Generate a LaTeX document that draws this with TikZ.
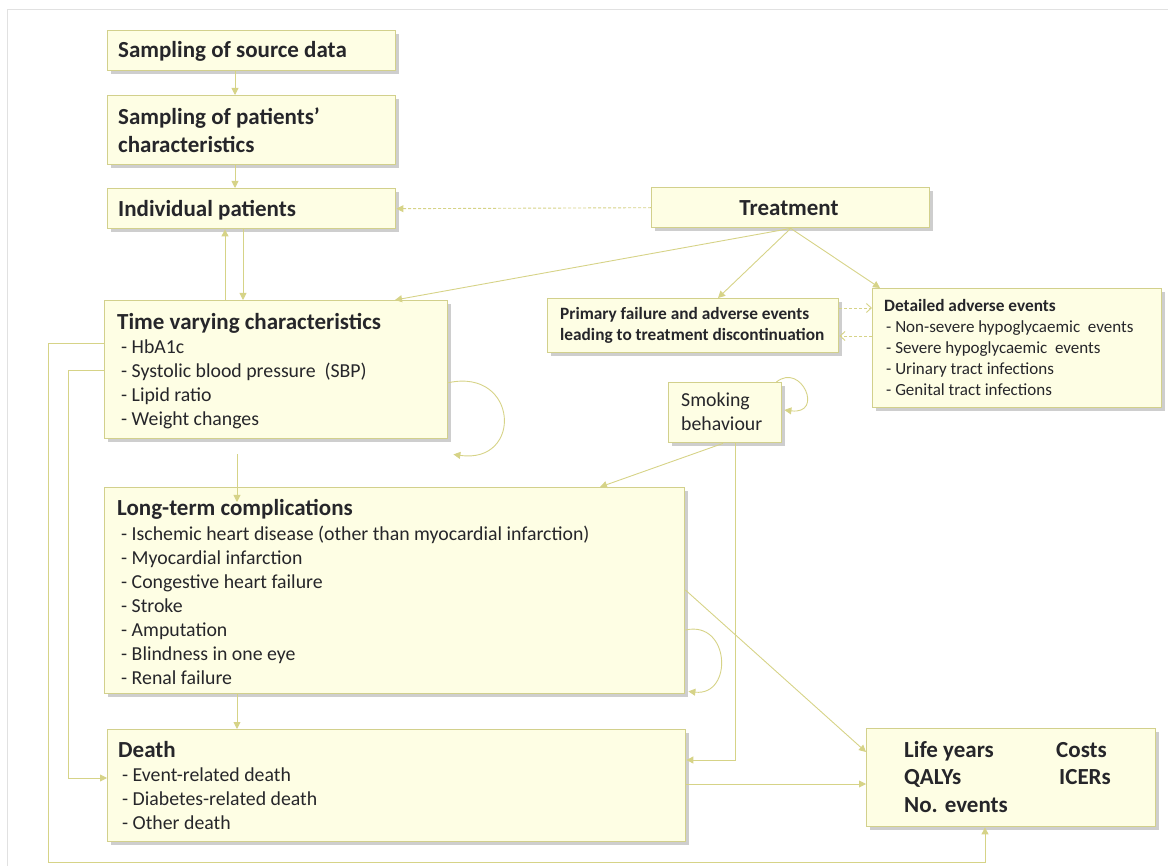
\documentclass[tikz,border=0pt]{standalone}
\usepackage{fontspec}
\setmainfont{Carlito}
\usetikzlibrary{arrows.meta,shadows,calc}
\definecolor{boxfill}{RGB}{254,254,228}
\definecolor{boxline}{RGB}{210,208,140}
\definecolor{conn}{RGB}{214,211,135}
\definecolor{textc}{RGB}{38,38,42}
\definecolor{framec}{RGB}{225,225,225}
\begin{document}
\begin{tikzpicture}[x=1pt,y=-1pt,
  box/.style={draw=boxline, line width=1.4pt, fill=boxfill,
    drop shadow={shadow xshift=3pt,shadow yshift=-3pt,opacity=0.35,fill=black!55},
    inner sep=0pt, anchor=north west},
  ttl/.style={font=\fontsize{23}{26}\selectfont\bfseries, text=textc, inner sep=0pt, anchor=base west},
  itm/.style={font=\fontsize{19.8}{22}\selectfont, text=textc, inner sep=0pt, anchor=base west},
  sml/.style={font=\fontsize{17}{19}\selectfont, text=textc, inner sep=0pt, anchor=base west},
  smlb/.style={font=\fontsize{17.3}{19}\selectfont\bfseries, text=textc, inner sep=0pt, anchor=base west},
  con/.style={draw=conn, line width=0.9pt, -{Triangle[width=7pt,length=7pt]}},
  dcon/.style={draw=conn, line width=0.9pt, dash pattern=on 3pt off 2pt, -{Triangle[width=7pt,length=7pt]}},
  bcon/.style={draw=conn, line width=0.9pt, dash pattern=on 3pt off 2pt, -{Straight Barb[width=9pt,length=5pt]}},
]
\useasboundingbox (0,0) rectangle (1168,866);
\draw[framec, line width=0.8pt] (7,866) -- (7,9) -- (1168,9);

% boxes
\node[box, minimum width=288, minimum height=40] (src) at (107,30) {};
\node[box, minimum width=288, minimum height=69] (pat) at (107,95) {};
\node[box, minimum width=288, minimum height=40] (ind) at (107,188) {};
\node[box, minimum width=278, minimum height=40] (trt) at (651,187) {};
\node[box, minimum width=343, minimum height=138] (tv) at (104,300) {};
\node[box, minimum width=291, minimum height=54] (pf) at (547,298) {};
\node[box, minimum width=289, minimum height=119] (dae) at (872,288) {};
\node[box, minimum width=113, minimum height=60] (smk) at (668,382) {};
\node[box, minimum width=580, minimum height=206] (lt) at (104,487) {};
\node[box, minimum width=578, minimum height=112] (dth) at (107,729) {};
\node[box, minimum width=289, minimum height=98] (out) at (866,728) {};

% texts
\node[ttl] (srct) at (118,58) {Sampling of source data};
\node[ttl] (patt1) at (118,125) {Sampling of patients’};
\node[ttl] (patt2) at (118,153) {characteristics};
\node[ttl] (indt) at (118,217) {Individual patients};
\node[ttl, anchor=base] (trtt) at (789,216) {Treatment};

\node[ttl] (tvt) at (117,330) {Time varying characteristics};
\foreach \t [count=\i] in {- HbA1c, - Systolic blood pressure\ \ (SBP), - Lipid ratio, - Weight changes}
  \node[itm] (tv\i) at (121,{354+24*(\i-1)}) {\t};

\node[smlb] (pf1) at (560,320) {Primary failure and adverse events};
\node[smlb] (pf2) at (560,341) {leading to treatment discontinuation};

\node[smlb] (daet) at (884,312) {Detailed adverse events};
\foreach \t [count=\i] in {- Non-severe hypoglycaemic\ \ events, - Severe hypoglycaemic\ \ events, - Urinary tract infections, - Genital tract infections}
  \node[sml] (dae\i) at (886,{333+21*(\i-1)}) {\t};

\node[itm] (smk1) at (681,407) {Smoking};
\node[itm] (smk2) at (681,431) {behaviour};

\node[ttl] (ltt) at (117,515) {Long-term complications};
\foreach \t [count=\i] in {- Ischemic heart disease (other than myocardial infarction), - Myocardial infarction, - Congestive heart failure, - Stroke, - Amputation, - Blindness in one eye, - Renal failure}
  \node[itm] (lt\i) at (121,{540+24*(\i-1)}) {\t};

\node[ttl] (dtht) at (118,757) {Death};
\foreach \t [count=\i] in {- Event-related death, - Diabetes-related death, - Other death}
  \node[itm] (dth\i) at (122,{781+24*(\i-1)}) {\t};

\node[ttl] (o1) at (904,757) {Life years};
\node[ttl] (o2) at (1056,757) {Costs};
\node[ttl] (o3) at (904,784) {QALYs};
\node[ttl] (o4) at (1059,784) {ICERs};
\node[ttl] (o5) at (904,812) {No. events};

% coordinates for free routing corners
\coordinate (lw) at (48,862);
\coordinate (lw2) at (68,778);

% connectors
\draw[con] ([xshift=128pt]src.south west) -- ([xshift=128pt]pat.north west);
\draw[con] ([xshift=128pt]pat.south west) -- ([xshift=128pt]ind.north west);
\draw[dcon] (trt.west) -- (ind.east);
\draw[con] ([xshift=136pt]ind.south west) -- ([xshift=136pt]ind.south west |- tv.north);
\draw[con] ([xshift=118pt]ind.south west |- tv.north) -- ([xshift=118pt]ind.south west);
\draw[con] (trt.south) -- ([xshift=291pt]tv.north west);
\draw[con] (trt.south) -- ([xshift=171pt]pf.north west);
\draw[con] (trt.south) -- ([xshift=8pt]dae.north west);
\draw[bcon] ([yshift=-10pt]pf.north east) -- ([yshift=-10pt]pf.north east -| dae.west);
\draw[bcon] ([yshift=-48pt]dae.north west) -- ([yshift=-48pt]dae.north west -| pf.east);
\draw[con] ([yshift=-13pt]tv.east) .. controls +(70,-15) and +(70,10) .. ([xshift=5pt,yshift=-15pt]tv.south east);
\draw[con] ([xshift=133pt,yshift=-15pt]tv.south west) -- ([xshift=133pt,yshift=-15pt]tv.south west |- lt.north);
\draw[con] ([xshift=55pt]smk.south west) -- ([xshift=496pt]lt.north west);
\draw[con] ([xshift=-6pt]smk.north east) .. controls +(25,-20) and +(40,5) .. ([xshift=2pt,yshift=-28pt]smk.north east);
\draw[con] ([xshift=67pt]smk.south west) |- ([yshift=-31pt]dth.north east);
\draw[con] ([yshift=-103pt]lt.north east) -- ([yshift=-24pt]out.north west);
\draw[con] ([yshift=-143pt]lt.north east) .. controls +(45,-10) and +(45,5) .. ([xshift=3pt,yshift=3pt]lt.south east);
\draw[con] ([xshift=133pt]lt.south west) -- ([xshift=133pt]lt.south west |- dth.north);
\draw[con] ([yshift=-55pt]dth.north east) -- ([yshift=-55pt]dth.north east -| out.west);
\draw[con] ([yshift=-43pt]tv.north west) -| (lw) -| ([xshift=119pt]out.south west);
\draw[con] ([yshift=-70pt]tv.north west) -| (lw2) -- (lw2 -| dth.west);
\end{tikzpicture}
\end{document}
